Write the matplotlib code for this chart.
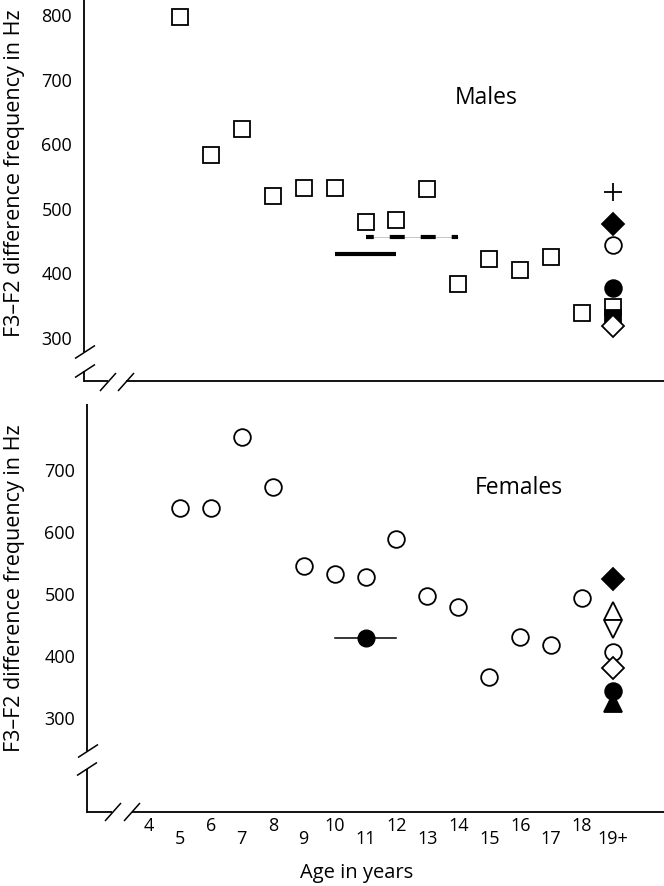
import matplotlib
matplotlib.use('Agg')
import matplotlib.pyplot as plt
from matplotlib.lines import Line2D

plt.rcParams['font.family'] = ['Open Sans', 'DejaVu Sans']
plt.rcParams['lines.scale_dashes'] = False

# ---- data ----
ages = [5, 6, 7, 8, 9, 10, 11, 12, 13, 14, 15, 16, 17, 18]
male_f3f2 = [795, 582, 622, 518, 531, 531, 478, 481, 529, 382, 421, 404, 424, 337]
female_f3f2 = [637, 637, 752, 671, 544, 531, 526, 587, 495, 477, 365, 429, 416, 492]

adult_age = 19
male_adult = [524, 475, 442, 376, 347, 329, 317]
female_adult = [523, 471, 442, 405, 379, 342, 323]

# group means shown as lines / bar
male_solid_level = 428
male_solid_span = [10, 12]
male_dashed_level = 455
male_dashed_span = [11, 14]
female_mean_level = 427
female_mean_age = 11
female_mean_span = [10, 12]

even_ages = [4, 6, 8, 10, 12, 14, 16, 18]
odd_ages = [5, 7, 9, 11, 13, 15, 17, 19]
odd_labels = ['5', '7', '9', '11', '13', '15', '17', '19+']
male_yticks = [300, 400, 500, 600, 700, 800]
female_yticks = [300, 400, 500, 600, 700]

# marker styles for the adult (19+) column, top to bottom
male_adult_style = [('+', 'k'), ('D', 'k'), ('o', 'w'), ('o', 'k'),
                    ('s', 'w'), ('s', 'k'), ('D', 'w')]
female_adult_style = [('D', 'k'), ('^', 'w'), ('v', 'w'), ('o', 'w'),
                      ('D', 'w'), ('o', 'k'), ('^', 'k')]
marker_size = {'+': 13, 'D': 11, 'o': 12, 's': 11, '^': 13, 'v': 13}

# ---- layout in pixels ----
W, H = 664, 887
AGE4_PX = 149.0
PX_PER_YEAR = 30.93
TICK_FS = 13


def fx(px):
    return px / W


def fy(py):
    return 1 - py / H


def pline(xs, ys, **kw):
    kw.setdefault('color', 'k')
    kw.setdefault('lw', 1.3)
    fig.add_artist(Line2D([fx(x) for x in xs], [fy(y) for y in ys],
                          transform=fig.transFigure, solid_capstyle='butt', **kw))


def slash(cx, cy, dx, dy):
    pline([cx - dx, cx + dx], [cy + dy, cy - dy], lw=1.1)


def make_axes(left_px, top_px, bottom_px, ref_val, ref_py, px_per_100):
    ax = fig.add_axes([fx(left_px), fy(bottom_px), (W - left_px) / W, (bottom_px - top_px) / H])
    ax.set_xlim(4 + (left_px - AGE4_PX) / PX_PER_YEAR, 4 + (W - AGE4_PX) / PX_PER_YEAR)
    ax.set_ylim(ref_val - (bottom_px - ref_py) / px_per_100 * 100,
                ref_val + (ref_py - top_px) / px_per_100 * 100)
    for s in ax.spines.values():
        s.set_visible(False)
    ax.patch.set_alpha(0)
    ax.tick_params(axis='y', length=0, pad=8.5, labelsize=TICK_FS)
    return ax


fig = plt.figure(figsize=(W / 100, H / 100), dpi=100)

# ---------------- Males ----------------
axm = make_axes(84, 0, 382, 800, 15, 64.6)
axm.set_yticks(male_yticks)
axm.set_xticks([])
axm.plot(ages, male_f3f2, 's', ms=11, mfc='white', mec='k', mew=1.3, ls='none', clip_on=False)
axm.plot(male_solid_span, [male_solid_level] * 2, color='k', lw=3, solid_capstyle='butt')
axm.plot(male_dashed_span, [male_dashed_level] * 2, color='#bbbbbb', lw=0.6)
axm.plot(male_dashed_span, [male_dashed_level] * 2, color='k', lw=3,
         linestyle=(5.2, (10.8, 11.5)), dash_capstyle='butt')
for v, (m, fc) in zip(male_adult, male_adult_style):
    axm.plot([adult_age], [v], marker=m, ms=marker_size[m], mfc=fc, mec='k',
             mew=1.3, ls='none', clip_on=False)
axm.text((486 - 84) / (W - 84), 1 - 98 / 382, 'Males', transform=axm.transAxes,
         fontsize=16.5, ha='center', va='center')

# axis lines with breaks
pline([84, 84], [0, 353])
slash(85, 353, 10, 6.5)
slash(85, 372, 10, 6.5)
pline([84, 84], [372, 382.5])
pline([83.5, 108], [382, 382])
slash(108, 383, 8, 9)
slash(126, 383, 8, 9)
pline([126, W], [382, 382])

# ---------------- Females ----------------
axf = make_axes(87, 405, 813, 700, 470, 62)
axf.set_yticks(female_yticks)
axf.plot(ages, female_f3f2, 'o', ms=12, mfc='white', mec='k', mew=1.3, ls='none', clip_on=False)
axf.plot(female_mean_span, [female_mean_level] * 2, color='k', lw=1.1)
axf.plot([female_mean_age], [female_mean_level], 'o', ms=12, color='k')
for v, (m, fc) in zip(female_adult, female_adult_style):
    axf.plot([adult_age], [v], marker=m, ms=marker_size[m], mfc=fc, mec='k',
             mew=1.3, ls='none', clip_on=False)
axf.text((519 - 87) / (W - 87), (813 - 488) / (813 - 405), 'Females',
         transform=axf.transAxes, fontsize=16.5, ha='center', va='center')

axf.set_xticks(even_ages, [str(a) for a in even_ages])
axf.set_xticks(odd_ages, odd_labels, minor=True)
axf.tick_params(axis='x', which='major', length=0, pad=3, labelsize=TICK_FS)
axf.tick_params(axis='x', which='minor', length=0, pad=12.5, labelsize=TICK_FS)

pline([87, 87], [405, 752])
slash(88, 752, 10, 6.5)
slash(87, 770, 10, 6.5)
pline([87, 87], [770, 813.5])
pline([86.5, 112], [813, 813])
slash(113, 813, 8, 9)
slash(132, 813, 8, 9)
pline([132, W], [813, 813])

# ---------------- labels ----------------
fig.text(fx(15), fy(173), 'F3\u2013F2 difference frequency in Hz', rotation=90,
         ha='center', va='center', fontsize=15.5)
fig.text(fx(15), fy(588), 'F3\u2013F2 difference frequency in Hz', rotation=90,
         ha='center', va='center', fontsize=15.5)
fig.text(fx(357), fy(873), 'Age in years', ha='center', va='center', fontsize=14.5)

fig.savefig('out.png', dpi=100)
